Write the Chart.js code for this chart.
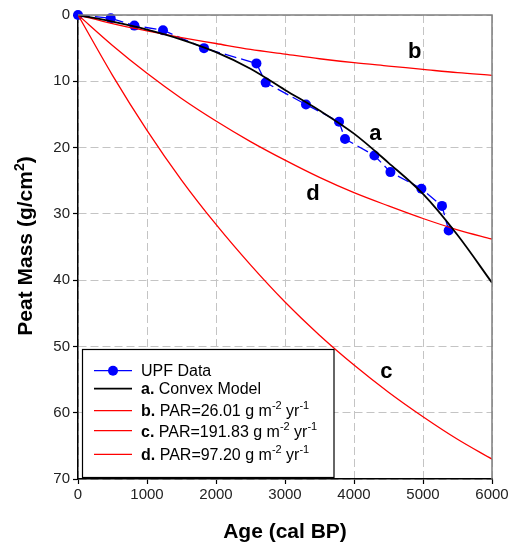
<!DOCTYPE html>
<html>
<head>
<meta charset="utf-8">
<script src="https://cdn.jsdelivr.net/npm/chart.js@4/dist/chart.umd.min.js"></script>
<style>
  html, body { margin: 0; padding: 0; background: #ffffff; }
  canvas { display: block; }
</style>
</head>
<body>
<canvas id="c" width="509" height="546"></canvas>
<script>
// ---- data ----
const upfAge  = [0, 474, 817, 1232, 1826, 2586, 2720, 3304, 3783, 3870, 4296, 4528, 4977, 5275, 5372];
const upfMass = [0, 0.5, 1.6, 2.3, 5.0, 7.3, 10.2, 13.5, 16.1, 18.7, 21.2, 23.7, 26.2, 28.8, 32.5];

const modelAge    = [0, 500, 1000, 1500, 2000, 2500, 3000, 3500, 4000, 4500, 5000, 5500, 6000];
const convexModel = [0, 1.0, 2.2, 3.7, 5.6, 8.1, 11.3, 14.4, 17.9, 22.3, 27.0, 33.2, 40.4];
const parB        = [0, 1.3, 2.4, 3.4, 4.3, 5.2, 5.9, 6.6, 7.2, 7.7, 8.2, 8.7, 9.1];
const parC        = [0, 9.1, 17.4, 24.9, 31.6, 37.7, 43.3, 48.3, 52.8, 56.9, 60.6, 64.0, 67.0];
const parD        = [0, 4.6, 8.8, 12.6, 16.0, 19.1, 21.9, 24.5, 26.8, 28.8, 30.7, 32.4, 33.8];

const xTitle = 'Age (cal BP)';
const yTitle = 'Peat Mass (g/cm';
const legendRows = [
  { bold: '',   text: 'UPF Data', sup: [] },
  { bold: 'a.', text: ' Convex Model', sup: [] },
  { bold: 'b.', text: ' PAR=26.01 g m', sup: ['-2', ' yr', '-1'] },
  { bold: 'c.', text: ' PAR=191.83 g m', sup: ['-2', ' yr', '-1'] },
  { bold: 'd.', text: ' PAR=97.20 g m', sup: ['-2', ' yr', '-1'] }
];
const curveLabels = [
  { t: 'a', x: 4310, y: 18.0 },
  { t: 'b', x: 4880, y: 5.6 },
  { t: 'c', x: 4470, y: 53.9 },
  { t: 'd', x: 3406, y: 27.0 }
];

const toXY = (xs, ys) => xs.map((x, i) => ({ x: x, y: ys[i] }));
const FONT = '"Liberation Sans", Arial, sans-serif';

const decorPlugin = {
  id: 'decor',
  afterDatasetsDraw(chart) {
    const { ctx, chartArea: a } = chart;
    ctx.save();
    ctx.strokeStyle = '#7f7f7f';
    ctx.lineWidth = 1.5;
    ctx.beginPath();
    ctx.moveTo(a.left, a.top);
    ctx.lineTo(a.right, a.top);
    ctx.lineTo(a.right, a.bottom);
    ctx.stroke();
    ctx.restore();
  },
  afterDraw(chart) {
    const { ctx, chartArea: a, scales } = chart;
    ctx.save();
    // curve labels
    ctx.fillStyle = '#000';
    ctx.font = 'bold 22px ' + FONT;
    ctx.textAlign = 'center';
    ctx.textBaseline = 'middle';
    curveLabels.forEach(l => {
      ctx.fillText(l.t, scales.x.getPixelForValue(l.x), scales.y.getPixelForValue(l.y));
    });

    // legend box
    const bx = 82.5, by = 349.5, bw = 251.5, bh = 128;
    ctx.fillStyle = '#fff';
    ctx.fillRect(bx, by, bw, bh);
    ctx.strokeStyle = '#000';
    ctx.lineWidth = 1.2;
    ctx.strokeRect(bx, by, bw, bh);

    const lineY = [370.7, 388.7, 410.7, 430.7, 454.3];
    const baseY = [375.5, 393.5, 416, 436.5, 459.5];
    const colors = ['#0000ff', '#000000', '#ff0000', '#ff0000', '#ff0000'];
    ctx.textAlign = 'left';
    ctx.textBaseline = 'alphabetic';
    legendRows.forEach((r, i) => {
      ctx.strokeStyle = colors[i];
      ctx.lineWidth = i === 1 ? 1.8 : 1.3;
      ctx.beginPath();
      ctx.moveTo(94, lineY[i]);
      ctx.lineTo(132, lineY[i]);
      ctx.stroke();
      if (i === 0) {
        ctx.fillStyle = '#0000ff';
        ctx.beginPath();
        ctx.arc(113, lineY[i], 5, 0, Math.PI * 2);
        ctx.fill();
      }
      ctx.fillStyle = '#000';
      let x = 141;
      if (r.bold) {
        ctx.font = 'bold 16px ' + FONT;
        ctx.fillText(r.bold, x, baseY[i]);
        x += ctx.measureText(r.bold).width;
      }
      ctx.font = '16px ' + FONT;
      ctx.fillText(r.text, x, baseY[i]);
      x += ctx.measureText(r.text).width;
      r.sup.forEach((s, k) => {
        if (k % 2 === 0) {
          ctx.font = '11px ' + FONT;
          ctx.fillText(s, x, baseY[i] - 7);
        } else {
          ctx.font = '16px ' + FONT;
          ctx.fillText(s, x, baseY[i]);
        }
        x += ctx.measureText(s).width;
      });
    });

    // axis titles
    ctx.fillStyle = '#000';
    ctx.font = 'bold 21px ' + FONT;
    ctx.textAlign = 'center';
    ctx.textBaseline = 'middle';
    ctx.fillText(xTitle, (a.left + a.right) / 2, 532);

    ctx.translate(25, 246);
    ctx.rotate(-Math.PI / 2);
    ctx.font = 'bold 21px ' + FONT;
    const w1 = ctx.measureText(yTitle).width;
    ctx.font = 'bold 14px ' + FONT;
    const w2 = ctx.measureText('2').width;
    ctx.font = 'bold 21px ' + FONT;
    const w3 = ctx.measureText(')').width;
    let sx = -(w1 + w2 + w3) / 2;
    ctx.textAlign = 'left';
    ctx.textBaseline = 'alphabetic';
    ctx.fillText(yTitle, sx, 7);
    sx += w1;
    ctx.font = 'bold 14px ' + FONT;
    ctx.fillText('2', sx, -1);
    sx += w2;
    ctx.font = 'bold 21px ' + FONT;
    ctx.fillText(')', sx, 7);
    ctx.restore();
  }
};

const tickFont = { family: FONT, size: 15 };

new Chart(document.getElementById('c'), {
  type: 'scatter',
  data: {
    datasets: [
      { label: 'UPF Data', data: toXY(upfAge, upfMass), showLine: true,
        borderColor: '#0000ff', backgroundColor: '#0000ff', borderWidth: 1.3,
        borderDash: [12, 5], pointRadius: 5, pointBorderWidth: 0, clip: false, order: 2 },
      { label: 'a. Convex Model', data: toXY(modelAge, convexModel), showLine: true,
        borderColor: '#000000', borderWidth: 1.8, pointRadius: 0, cubicInterpolationMode: 'monotone', order: 1 },
      { label: 'b', data: toXY(modelAge, parB), showLine: true,
        borderColor: '#ff0000', borderWidth: 1.3, pointRadius: 0, cubicInterpolationMode: 'monotone', order: 1 },
      { label: 'c', data: toXY(modelAge, parC), showLine: true,
        borderColor: '#ff0000', borderWidth: 1.3, pointRadius: 0, cubicInterpolationMode: 'monotone', order: 1 },
      { label: 'd', data: toXY(modelAge, parD), showLine: true,
        borderColor: '#ff0000', borderWidth: 1.3, pointRadius: 0, cubicInterpolationMode: 'monotone', order: 1 }
    ]
  },
  options: {
    responsive: false,
    animation: false,
    layout: { padding: { top: 15, right: 17, left: 0, bottom: 0 } },
    plugins: { legend: { display: false }, tooltip: { enabled: false } },
    scales: {
      x: {
        type: 'linear', min: 0, max: 6000,
        ticks: { stepSize: 1000, font: tickFont, color: '#222', padding: 2, maxRotation: 0,
                 callback: v => String(v) },
        grid: { color: '#c4c4c4', lineWidth: 1, tickColor: '#000', tickLength: 5, tickWidth: 1.2 },
        border: { color: '#000', width: 1.5, dash: [8, 4] },
        afterFit: s => { s.height = 67; s.paddingRight = 0; s.paddingLeft = 0; }
      },
      y: {
        type: 'linear', min: 0, max: 70, reverse: true,
        ticks: { stepSize: 10, font: tickFont, color: '#222', padding: 3, callback: v => String(v) },
        grid: { color: '#c4c4c4', lineWidth: 1, tickColor: '#000', tickLength: 5, tickWidth: 1.2 },
        border: { color: '#000', width: 1.5, dash: [8, 4] },
        afterFit: s => { s.width = 78; s.paddingTop = 0; s.paddingBottom = 0; }
      }
    }
  },
  plugins: [decorPlugin]
});
</script>
</body>
</html>
